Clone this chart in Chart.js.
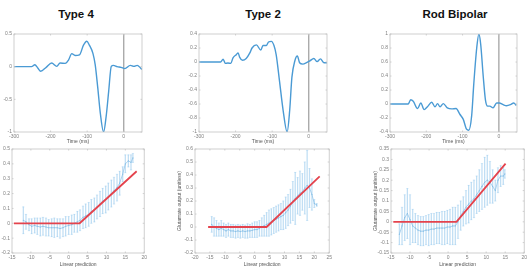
<!DOCTYPE html>
<html>
<head>
<meta charset="utf-8">
<script src="https://cdn.jsdelivr.net/npm/chart.js@4"></script>
<style>
  html, body { margin: 0; padding: 0; background: #fff; }
  body { width: 530px; height: 270px; position: relative; overflow: hidden; font-family: "Liberation Sans", Arial, sans-serif; }
  canvas { position: absolute; }
  .ttl { position: absolute; top: 8px; font-weight: bold; font-size: 11.5px; color: #111; white-space: nowrap; transform: translateX(-50%); }
</style>
</head>
<body>
<div class="ttl" style="left:76px">Type 4</div>
<div class="ttl" style="left:263px">Type 2</div>
<div class="ttl" style="left:455px">Rod Bipolar</div>

<canvas id="k4"></canvas>
<canvas id="k2"></canvas>
<canvas id="kr"></canvas>
<canvas id="n4"></canvas>
<canvas id="n2"></canvas>
<canvas id="nr"></canvas>

<script>
// ── 위: 시간 필터 (ms) ──
const t4T = [-300, -252, -243, -235, -227, -212, -197, -183, -174, -160, -151, -142, -133, -121, -110, -101, -94, -84, -78, -71, -64, -55, -48, -41, -34, -28, -18, -7, 3, 18, 28, 37, 46, 50];
const t4Y = [0, 0, 0.03, -0.02, -0.07, -0.01, 0.055, 0.005, 0.055, 0.05, 0.1, 0.2, 0.17, 0.18, 0.33, 0.39, 0.33, 0.2, 0.03, -0.32, -0.71, -1.0, -0.76, -0.37, 0.005, 0.02, 0, -0.01, -0.03, 0.02, 0.005, 0.02, -0.02, -0.045];

const t2T = [-300, -241, -234, -228, -221, -213, -207, -198, -193, -189, -181, -171, -161, -155, -143, -131, -125, -116, -110, -102, -95, -89, -80, -70, -59, -52, -46, -38, -31, -25, -16, -6, 3, 14, 23, 32, 42, 50];
const t2Y = [0, 0, 0.04, -0.02, -0.015, -0.02, 0.06, 0.105, 0.13, 0.07, 0.025, 0.05, 0.13, 0.2, 0.245, 0.17, 0.235, 0.235, 0.285, 0.295, 0.235, 0.105, -0.265, -0.69, -1.0, -0.69, -0.22, 0.015, 0.085, -0.01, -0.03, -0.01, 0.015, 0.05, 0.005, 0.045, -0.01, -0.01];

const trT = [-300, -250, -243, -236, -224, -215, -206, -197, -185, -176, -169, -162, -153, -142, -130, -118, -107, -98, -89, -83, -75, -69, -61, -55, -50, -43, -37, -31, -25, -16, -6, 1, 12, 21, 32, 41, 48];
const trY = [0, 0, 0.06, 0.04, -0.065, 0.015, -0.08, -0.04, 0.025, -0.04, 0.005, -0.04, 0.005, -0.055, -0.07, -0.065, -0.15, -0.22, -0.36, -0.375, -0.17, 0.295, 0.8, 1.0, 0.85, 0.39, 0.06, -0.03, -0.03, -0.055, 0.015, 0.015, -0.01, -0.025, -0.01, 0.015, -0.02];

// ── 아래: 선형 예측 vs 글루타메이트 출력 (평균 ± 오차) ──
const n4X   = [-12, -11.3, -10.5, -9.8, -9, -8.3, -7.5, -6.8, -6, -5.3, -4.5, -3.8, -3, -2.3, -1.5, -0.8, 0, 0.8, 1.5, 2.3, 3, 3.8, 4.5, 5.3, 6, 6.8, 7.5, 8.3, 9, 9.8, 10.5, 11.3, 12, 12.8, 13.5, 14.3, 15, 15.8, 16.5, 17];
const n4M   = [0.02, 0.01, -0.01, -0.02, -0.015, -0.02, -0.025, -0.02, -0.025, -0.03, -0.03, -0.03, -0.03, -0.035, -0.03, -0.02, -0.015, -0.01, 0, 0.01, 0.02, 0.04, 0.05, 0.06, 0.08, 0.09, 0.11, 0.13, 0.15, 0.16, 0.18, 0.2, 0.22, 0.24, 0.27, 0.33, 0.4, 0.42, 0.41, 0.44];
const n4E   = [0.09, 0.05, 0.04, 0.05, 0.05, 0.055, 0.06, 0.06, 0.06, 0.055, 0.06, 0.065, 0.06, 0.065, 0.06, 0.065, 0.06, 0.065, 0.06, 0.07, 0.07, 0.075, 0.08, 0.08, 0.08, 0.08, 0.08, 0.085, 0.085, 0.09, 0.09, 0.09, 0.09, 0.09, 0.08, 0.05, 0.06, 0.04, 0.05, 0.03];

const n2X   = [-14.4, -13.6, -12.8, -12, -11.2, -10.4, -9.6, -8.8, -8, -7.2, -6.4, -5.6, -4.8, -4, -3.2, -2.4, -1.6, -0.8, 0, 0.8, 1.6, 2.4, 3.2, 4, 4.8, 5.6, 6.4, 7.2, 8, 8.8, 9.6, 10.4, 11.2, 12, 12.8, 13.6, 14.4, 15.2, 16, 16.8, 17.6, 18.4, 19.2, 20, 20.8];
const n2M   = [0.02, 0, -0.01, -0.02, -0.01, -0.02, -0.03, -0.02, -0.03, -0.03, -0.035, -0.03, -0.035, -0.03, -0.035, -0.03, -0.03, -0.025, -0.02, -0.02, -0.01, 0, 0.01, 0.02, 0.03, 0.04, 0.05, 0.06, 0.07, 0.08, 0.09, 0.11, 0.13, 0.16, 0.2, 0.22, 0.24, 0.26, 0.27, 0.3, 0.32, 0.3, 0.25, 0.18, 0.17];
const n2E   = [0.06, 0.07, 0.06, 0.05, 0.06, 0.05, 0.05, 0.05, 0.05, 0.05, 0.05, 0.05, 0.05, 0.05, 0.05, 0.055, 0.05, 0.055, 0.06, 0.06, 0.06, 0.07, 0.08, 0.09, 0.1, 0.1, 0.1, 0.1, 0.1, 0.1, 0.11, 0.12, 0.12, 0.13, 0.15, 0.2, 0.14, 0.17, 0.14, 0.2, 0.27, 0.15, 0.12, 0.03, 0.01];

const nrX   = [-12.8, -12.1, -11.4, -10.7, -10, -9.3, -8.6, -7.9, -7.2, -6.5, -5.8, -5.1, -4.4, -3.7, -3, -2.3, -1.6, -0.9, -0.2, 0.5, 1.2, 1.9, 2.6, 3.3, 4, 4.7, 5.4, 6.1, 6.8, 7.5, 8.2, 8.9, 9.6, 10.3, 11, 11.7, 12.4, 13.1, 13.8, 14.5, 14.9];
const nrM   = [-0.06, -0.02, 0.02, 0.04, 0.01, -0.02, -0.03, -0.04, -0.045, -0.045, -0.04, -0.04, -0.035, -0.035, -0.03, -0.03, -0.03, -0.03, -0.025, -0.025, -0.02, -0.02, 0, 0.03, 0.05, 0.07, 0.085, 0.1, 0.11, 0.13, 0.15, 0.17, 0.19, 0.2, 0.19, 0.17, 0.15, 0.2, 0.22, 0.22, 0.23];
const nrE   = [0.05, 0.09, 0.11, 0.12, 0.12, 0.08, 0.07, 0.07, 0.07, 0.07, 0.07, 0.075, 0.075, 0.075, 0.075, 0.075, 0.08, 0.08, 0.08, 0.085, 0.09, 0.09, 0.08, 0.07, 0.07, 0.08, 0.09, 0.09, 0.09, 0.09, 0.1, 0.11, 0.12, 0.12, 0.1, 0.08, 0.05, 0.06, 0.05, 0.04, 0.02];

// 선형-정류 적합선 (꺾인 직선)
const fit4X = [-14.5, 2.9, 18],  fit4Y = [0, 0, 0.35];
const fit2X = [-15.6, 4, 21.8],  fit2Y = [0, 0, 0.39];
const fitRX = [-14.4, 2.2, 15.1], fitRY = [0, 0, 0.28];

const FONT = '"Liberation Sans", Arial, sans-serif';
const TICK = { size: 5, family: FONT };
const fmt = v => String(Math.round(v * 1000) / 1000);

// MATLAB 스타일 박스 + 안쪽 눈금
const boxPlugin = {
  id: 'box',
  afterDraw(chart) {
    const { ctx, chartArea: a, scales } = chart;
    ctx.save();
    ctx.strokeStyle = '#c4c4c4';
    ctx.lineWidth = 0.8;
    ctx.strokeRect(a.left, a.top, a.width, a.height);
    ctx.beginPath();
    scales.x.ticks.forEach(t => {
      if (scales.x.options.ticks.callback(t.value) === '') return;
      const px = scales.x.getPixelForValue(t.value);
      ctx.moveTo(px, a.bottom); ctx.lineTo(px, a.bottom - 1.5);
      ctx.moveTo(px, a.top);    ctx.lineTo(px, a.top + 1.5);
    });
    scales.y.ticks.forEach(t => {
      const py = scales.y.getPixelForValue(t.value);
      ctx.moveTo(a.left, py);  ctx.lineTo(a.left + 1.5, py);
      ctx.moveTo(a.right, py); ctx.lineTo(a.right - 1.5, py);
    });
    ctx.stroke();
    ctx.restore();
  }
};

function place(id, left, top, w, h) {
  const c = document.getElementById(id);
  c.width = w; c.height = h;
  c.style.left = left + 'px'; c.style.top = top + 'px';
  c.style.width = w + 'px'; c.style.height = h + 'px';
  return c;
}

const NOGRID = { display: false, drawTicks: false, tickLength: 0 };

function axes(xo, yo, padL, xH, xTitle, yTitle) {
  return {
    x: {
      type: 'linear', min: xo.min, max: xo.max, offset: false,
      grid: NOGRID, border: { display: false },
      ticks: { stepSize: xo.step, font: TICK, color: '#808080', padding: 2, maxRotation: 0, autoSkip: false,
               callback: xo.cb || fmt },
      title: { display: true, text: xTitle, font: { size: 5, family: FONT }, color: '#555', padding: 0 },
      afterFit: s => { s.height = xH; },
    },
    y: {
      min: yo.min, max: yo.max,
      grid: NOGRID, border: { display: false },
      ticks: { stepSize: yo.step, font: TICK, color: '#808080', padding: 2, autoSkip: false, callback: fmt },
      title: { display: !!yTitle, text: yTitle || '', font: { size: 5, family: FONT }, color: '#555', padding: 0 },
      afterFit: s => { s.width = padL; },
    },
  };
}

function makeKernel(id, left, width, T, Y, yMin, yMax, yStep) {
  const c = place(id, left, 29, width, 116);
  new Chart(c, {
    type: 'line',
    data: {
      datasets: [
        { data: T.map((t, i) => ({ x: t, y: Y[i] })), borderColor: '#4a9ad4', borderWidth: 1.4,
          pointRadius: 0, cubicInterpolationMode: 'monotone', order: 0 },
        { data: [{ x: 0, y: yMin }, { x: 0, y: yMax }], borderColor: '#aaaaaa', borderWidth: 1.4,
          pointRadius: 0, order: 1 },
      ]
    },
    options: {
      responsive: false, animation: false, events: [],
      layout: { padding: { top: 3, right: 3 } },
      plugins: { legend: { display: false }, tooltip: { enabled: false } },
      scales: axes({ min: -300, max: 50, step: 100, cb: v => (v % 100 === 0 ? String(v) : '') },
                   { min: yMin, max: yMax, step: yStep }, 14, 13, 'Time (ms)'),
    },
    plugins: [boxPlugin],
  });
}

function makeNl(id, left, width, padL, X, M, E, fx, fy, xr, yr, yTitle) {
  const c = place(id, left, 144, width, 124);
  const blue = 'rgba(140,195,235,0.55)';
  new Chart(c, {
    type: 'scatter',
    data: {
      datasets: [
        { type: 'line', data: fx.map((x, i) => ({ x, y: fy[i] })), borderColor: '#e4434d', borderWidth: 1.8,
          pointRadius: 0, tension: 0, order: 0 },
        { type: 'line', data: X.map((x, i) => ({ x, y: M[i] })), borderColor: '#86bfe6', borderWidth: 0.7,
          pointRadius: 0.6, pointBackgroundColor: '#86bfe6', pointBorderWidth: 0, tension: 0, order: 1 },
        { data: X.flatMap((x, i) => [{ x, y: M[i] - E[i] }, { x, y: M[i] + E[i] }]), pointStyle: 'line',
          pointRadius: 1.2, borderColor: blue, borderWidth: 0.5, order: 2 },
        { type: 'bar', data: X.map((x, i) => ({ x, y: [M[i] - E[i], M[i] + E[i]] })), backgroundColor: blue,
          borderWidth: 0, barThickness: 0.6, grouped: false, order: 3 },
      ]
    },
    options: {
      responsive: false, animation: false, events: [],
      layout: { padding: { top: 3, right: 3 } },
      plugins: { legend: { display: false }, tooltip: { enabled: false } },
      scales: axes(xr, yr, padL, 15, 'Linear prediction', yTitle),
    },
    plugins: [boxPlugin],
  });
}

makeKernel('k4', 0,   145, t4T, t4Y, -1,   0.5, 0.5);
makeKernel('k2', 185, 145, t2T, t2Y, -1,   0.4, 0.2);
makeKernel('kr', 376, 144, trT, trY, -0.4, 1,   0.2);

makeNl('n4', 0,   149, 12, n4X, n4M, n4E, fit4X, fit4Y, { min: -15, max: 20, step: 5 }, { min: -0.2,  max: 0.5,  step: 0.1 }, null);
makeNl('n2', 177, 157, 18, n2X, n2M, n2E, fit2X, fit2Y, { min: -20, max: 25, step: 5 }, { min: -0.2,  max: 0.6,  step: 0.1 }, 'Glutamate output (unitless)');
makeNl('nr', 373, 156, 18, nrX, nrM, nrE, fitRX, fitRY, { min: -15, max: 20, step: 5 }, { min: -0.15, max: 0.35, step: 0.05 }, 'Glutamate output (unitless)');
</script>
</body>
</html>
